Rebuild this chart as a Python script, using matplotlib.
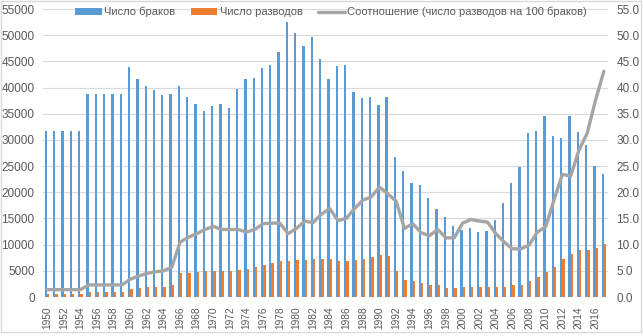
import numpy as np
import matplotlib
matplotlib.use("Agg")
import matplotlib.pyplot as plt
from matplotlib.patches import Rectangle
from matplotlib.ticker import FuncFormatter

# данные
years = list(range(1950, 2018))

marriages = [
    31700, 31700, 31700, 31700, 31700,
    38800, 38800, 38800, 38800, 38800,
    43900, 41600, 40300, 39500, 38600, 38700, 40300, 38200, 36800, 35500,
    36400, 36800, 36050, 39700, 41600, 41900, 43700, 44300, 46750, 52500,
    50400, 48000, 49600, 45400, 41600, 44100, 44300, 39100, 38000, 38200,
    36600, 38100, 26700, 24100, 21800, 21350, 19000, 16900, 15200, 13600,
    12700, 13100, 12400, 12550, 14700, 17950, 21700, 24800, 31300, 31700,
    34600, 30700, 30400, 34600, 31500, 29000, 25000, 23500,
]

divorces = [
    500, 500, 500, 500, 500,
    900, 900, 900, 900, 900,
    1500, 1700, 1900, 1900, 1900, 2300, 4500, 4500, 4700, 4900,
    5000, 4900, 4900, 5200, 5400, 5700, 6200, 6400, 6800, 6800,
    7000, 7100, 7200, 7300, 7200, 6800, 6800, 7000, 7200, 7600,
    8000, 7800, 5000, 3200, 3000, 2700, 2300, 2300, 1800, 1800,
    1900, 2000, 1900, 1900, 1900, 1900, 2200, 2300, 3100, 3900,
    4700, 5800, 7200, 8200, 9000, 9000, 9400, 10100,
]

ratio = [
    1.4, 1.4, 1.4, 1.4, 1.4,
    2.3, 2.3, 2.3, 2.3, 2.3,
    3.4, 4.0, 4.5, 4.8, 5.0, 5.7, 10.5, 11.4, 12.1, 12.9,
    13.5, 12.9, 12.9, 12.9, 12.4, 12.9, 14.0, 14.1, 14.1, 12.1,
    13.1, 14.5, 14.2, 15.8, 16.9, 14.6, 15.0, 16.9, 18.5, 19.1,
    21.0, 19.7, 18.3, 13.1, 14.0, 12.3, 11.7, 12.9, 11.3, 11.3,
    14.1, 14.8, 14.5, 14.3, 12.1, 10.5, 9.2, 9.2, 9.9, 12.4,
    13.4, 18.5, 23.4, 23.1, 28.0, 31.3, 37.6, 43.1,
]

blue = "#5B9BD5"
orange = "#ED7D31"
gray = "#A5A5A5"
txt = "#595959"

plt.rcParams["font.family"] = ["Liberation Sans", "DejaVu Sans"]

fig = plt.figure(figsize=(6.43, 3.36), dpi=100)
ax = fig.add_axes([43 / 643, 1 - 297 / 336, (608 - 43) / 643, 288 / 336])
ax2 = ax.twinx()

x = np.array(years)
w = 0.28
b1 = ax.bar(x - w / 2, marriages, width=w, color=blue, zorder=2)
b2 = ax.bar(x + w / 2, divorces, width=w, color=orange, zorder=2)
(ln,) = ax2.plot(x, ratio, color=gray, lw=2.4, solid_capstyle="round", zorder=3)

ax.set_xlim(1949.5, 2017.5)
ax.set_ylim(0, 55000)
ax2.set_ylim(0, 55)
ax.set_yticks(range(0, 55001, 5000))
ax2.set_yticks(range(0, 56, 5))
ax2.yaxis.set_major_formatter(FuncFormatter(lambda v, p: f"{v:.1f}"))

ax.grid(axis="y", color="#D9D9D9", lw=0.8, zorder=0)
ax.set_axisbelow(True)
ax.set_xticks(range(1950, 2018, 2))
ax.set_xticklabels([str(y) for y in range(1950, 2018, 2)], rotation=90)

for a in (ax, ax2):
    for s in a.spines.values():
        s.set_visible(False)
    a.tick_params(length=0, colors=txt, labelsize=8.5)
ax.tick_params(axis="y", pad=6)
ax2.tick_params(axis="y", pad=6)
ax.tick_params(axis="x", pad=7, labelsize=7.3)

# легенда сверху
fig.legend(
    [b1, b2, ln],
    ["Число браков", "Число разводов", "Соотношение (число разводов на 100 браков)"],
    loc="center",
    bbox_to_anchor=(331 / 643, 1 - 12 / 336),
    ncol=3,
    frameon=False,
    fontsize=8,
    labelcolor=txt,
    handlelength=2.4,
    handleheight=0.6,
    columnspacing=1.4,
    handletextpad=0.2,
)

fig.patches.append(
    Rectangle((0.002, 1 - 332 / 336), 0.995, 331 / 336, transform=fig.transFigure,
              fill=False, edgecolor="#D9D9D9", lw=1)
)

fig.savefig("out.png", dpi=100)
